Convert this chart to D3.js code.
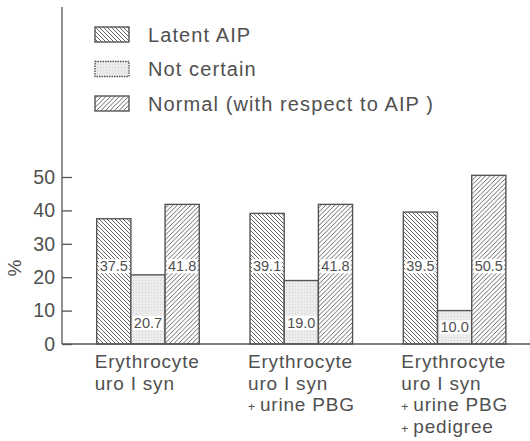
<!DOCTYPE html>
<html><head><meta charset="utf-8">
<script src="https://cdn.jsdelivr.net/npm/d3@7"></script>
<style>
html,body{margin:0;padding:0;background:#fff;}
text{font-family:"Liberation Sans",Arial,sans-serif;fill:#505050;}
</style></head>
<body>
<svg id="chart" width="530" height="441"></svg>
<script>
const categories = ["Erythrocyte uro I syn", "Erythrocyte uro I syn + urine PBG", "Erythrocyte uro I syn + urine PBG + pedigree"];
const categoryLines = [
  ["Erythrocyte", "uro I syn"],
  ["Erythrocyte", "uro I syn", "+ urine PBG"],
  ["Erythrocyte", "uro I syn", "+ urine PBG", "+ pedigree"]
];
const seriesNames = ["Latent AIP", "Not certain", "Normal (with respect to AIP )"];
const latentValues = [37.5, 39.1, 39.5];
const notCertainValues = [20.7, 19.0, 10.0];
const normalValues = [41.8, 41.8, 50.5];
const yTicks = [0, 10, 20, 30, 40, 50];

const seriesValues = [latentValues, notCertainValues, normalValues];
const seriesKeys = ["latent", "uncertain", "normal"];

const svg = d3.select("#chart");
const ink = "#555";

// patterns
const defs = svg.append("defs");
const pLat = defs.append("pattern").attr("id", "p-latent").attr("patternUnits", "userSpaceOnUse")
  .attr("width", 4).attr("height", 4);
pLat.append("rect").attr("width", 4).attr("height", 4).attr("fill", "#fff");
pLat.append("path").attr("d", "M0,0L4,4M-1,3L1,5M3,-1L5,1").attr("stroke", ink).attr("stroke-width", 0.9);
const pNor = defs.append("pattern").attr("id", "p-normal").attr("patternUnits", "userSpaceOnUse")
  .attr("width", 4.5).attr("height", 4.5);
pNor.append("rect").attr("width", 4.5).attr("height", 4.5).attr("fill", "#fff");
pNor.append("path").attr("d", "M0,4.5L4.5,0M-1,1L1,-1M3.5,5.5L5.5,3.5").attr("stroke", ink).attr("stroke-width", 0.9);
const pUnc = defs.append("pattern").attr("id", "p-uncertain").attr("patternUnits", "userSpaceOnUse")
  .attr("width", 3).attr("height", 3);
pUnc.append("rect").attr("width", 3).attr("height", 3).attr("fill", "#ececec");
pUnc.append("rect").attr("x", 1).attr("y", 1).attr("width", 1).attr("height", 1).attr("fill", "#d4d4d4");
const fills = {latent: "url(#p-latent)", uncertain: "url(#p-uncertain)", normal: "url(#p-normal)"};

const y = d3.scaleLinear().domain([0, 50]).range([344, 177]);
const x0 = d3.scaleBand().domain(categories).range([96.7, 505.9]).paddingInner(0.331).paddingOuter(0);
const x1 = d3.scaleBand().domain(seriesKeys).range([0, x0.bandwidth()]).padding(0);

// axes
const yAxis = d3.axisLeft(y).tickValues(yTicks).tickSizeInner(-10).tickSizeOuter(0).tickPadding(7);
const gy = svg.append("g").attr("transform", "translate(62,0)").call(yAxis);
gy.select(".domain").remove();
gy.selectAll(".tick line").attr("stroke", ink).attr("stroke-width", 1.3);
gy.selectAll(".tick text").attr("font-size", 19.5).attr("fill", "#505050")
  .style("font-family", '"Liberation Sans",Arial,sans-serif');
svg.append("line").attr("x1", 62).attr("x2", 62).attr("y1", 7).attr("y2", y(0))
  .attr("stroke", ink).attr("stroke-width", 1.3);

svg.append("text").attr("transform", `translate(21,268) rotate(-90)`)
  .attr("text-anchor", "middle").attr("font-size", 19).text("%");

// bars
const data = [];
categories.forEach((c, i) => seriesKeys.forEach((k, j) => data.push({c, i, k, v: seriesValues[j][i]})));

const bars = svg.append("g");
bars.selectAll("rect").data(data).join("rect")
  .attr("x", d => x0(d.c) + x1(d.k))
  .attr("y", d => y(d.v))
  .attr("width", x1.bandwidth())
  .attr("height", d => y(0) - y(d.v))
  .attr("fill", d => fills[d.k])
  .attr("stroke", ink).attr("stroke-width", 1.4);

// baseline
svg.append("line").attr("x1", 62).attr("x2", 530).attr("y1", y(0)).attr("y2", y(0))
  .attr("stroke", ink).attr("stroke-width", 1.4);

// value labels
const labelCenter = d => d.k === "uncertain" ? y(0) - Math.min(21, (y(0) - y(d.v)) / 2) : y(23.3);
const lab = svg.append("g");
lab.selectAll("rect").data(data).join("rect")
  .attr("x", d => x0(d.c) + x1(d.k) + 2)
  .attr("y", d => labelCenter(d) - 7)
  .attr("width", x1.bandwidth() - 4)
  .attr("height", 14)
  .attr("fill", "#fff");
lab.selectAll("text").data(data).join("text")
  .attr("x", d => x0(d.c) + x1(d.k) + x1.bandwidth() / 2)
  .attr("y", d => labelCenter(d) + 5)
  .attr("text-anchor", "middle").attr("font-size", 14.5)
  .text(d => d.v.toFixed(1));

// category labels
const cat = svg.append("g");
categories.forEach((c, i) => {
  const t = cat.append("text").attr("x", x0(c) - 2).attr("y", 368).attr("font-size", 19)
    .attr("letter-spacing", 0.8);
  categoryLines[i].forEach((line, li) => {
    const ts = t.append("tspan").attr("x", x0(c) - 2).attr("y", 368 + li * 21.5);
    if (line.startsWith("+ ")) {
      ts.append("tspan").attr("font-size", 12).text("+ ");
      ts.append("tspan").text(line.slice(2));
    } else ts.text(line);
  });
});

// legend
const lg = svg.append("g");
seriesKeys.forEach((k, j) => {
  const yy = 27 + j * 34.5;
  lg.append("rect").attr("x", 95).attr("y", yy).attr("width", 34).attr("height", 15)
    .attr("fill", fills[k]).attr("stroke", ink).attr("stroke-width", 1.4)
    .attr("stroke-dasharray", k === "uncertain" ? "1.5,1" : null);
  lg.append("text").attr("x", 148).attr("y", yy + 14.5).attr("font-size", 20)
    .attr("letter-spacing", 1.1).text(seriesNames[j]);
});
</script>
</body></html>
